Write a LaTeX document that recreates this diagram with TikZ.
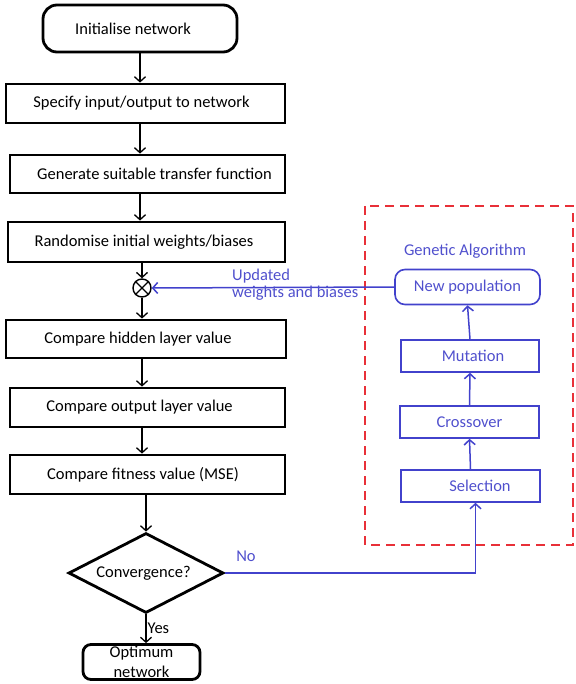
\documentclass[tikz,border=0pt]{standalone}
\usepackage{fontspec}
\setmainfont{Carlito}
\usetikzlibrary{arrows.meta,shapes.geometric,calc}
\definecolor{gablue}{RGB}{66,66,204}
\definecolor{gatext}{RGB}{80,80,205}
\definecolor{gared}{RGB}{232,48,56}
\newcommand{\tshift}[1]{\hspace*{#1}}
\begin{document}
\begin{tikzpicture}[x=1pt,y=-1pt,
  font=\fontsize{16.5}{18}\selectfont,
  bbox/.style={draw, rectangle, line width=2.8pt, inner sep=0pt},
  gbox/.style={draw=gablue, rectangle, line width=1.6pt, text=gatext, inner sep=0pt},
  arr/.style={-{Straight Barb[length=5pt,width=11pt]}, line width=1.3pt},
  barr/.style={arr, draw=gablue, line width=1.5pt},
  glabel/.style={text=gatext, inner sep=0pt}]
\useasboundingbox (0,0) rectangle (575,684);

% main flow
\node[bbox, rounded corners=14pt, minimum width=194pt, minimum height=47pt] (init) at (140,28.5) {\tshift{-14pt}Initialise network};
\node[bbox, minimum width=279pt, minimum height=39pt] (spec) at (145.5,103.5) {\tshift{-8pt}Specify input/output to network};
\node[bbox, minimum width=275pt, minimum height=38pt] (gen) at (147.5,174) {\tshift{14pt}Generate suitable transfer function};
\node[bbox, minimum width=277pt, minimum height=40pt] (rand) at (146.5,242) {\tshift{-5pt}Randomise initial weights/biases};
\node[circle, draw, line width=1.4pt, minimum size=18pt, inner sep=0pt] (sum) at (142,288) {};
\draw[line width=1.4pt] (sum.north west) -- (sum.south east) (sum.north east) -- (sum.south west);
\node[bbox, minimum width=280pt, minimum height=38pt] (hid) at (146,339) {\tshift{-16pt}Compare hidden layer value};
\node[bbox, minimum width=275pt, minimum height=39pt] (out) at (147.5,407.5) {\tshift{-16pt}Compare output layer value};
\node[bbox, minimum width=275pt, minimum height=39pt] (fit) at (147.5,474.5) {\tshift{-9pt}Compare fitness value (MSE)};
\node[diamond, draw, line width=2.8pt, aspect=2, minimum width=155pt, minimum height=80pt, inner sep=0pt] (conv) at (146,573) {\tshift{-5pt}Convergence?};
\node[bbox, rounded corners=8pt, minimum width=117pt, minimum height=35pt, align=center, font=\fontsize{16.5}{20}\selectfont] (opt) at (141.5,662) {Optimum\\network};

\draw[arr] (init.south) -- (init.south |- spec.north);
\draw[arr] (init.south |- spec.south) -- (init.south |- gen.north);
\draw[arr] (init.south |- gen.south) -- (init.south |- rand.north);
\draw[arr] (sum |- rand.south) -- (sum.north);
\draw[arr] (sum.south) -- (sum |- hid.north);
\draw[arr] (sum |- hid.south) -- (sum |- out.north);
\draw[arr] (sum |- out.south) -- (sum |- fit.north);
\draw[arr] (conv.north |- fit.south) -- (conv.north);
\draw[arr] (conv.south) -- node[right=1pt, inner sep=0pt] {Yes} (conv.south |- opt.north);

% genetic algorithm
\draw[gared, line width=1.8pt, dash pattern=on 9pt off 6pt] (365,206) rectangle (573,545);
\node[glabel] (galab) at (465,251) {Genetic Algorithm};
\node[gbox, rounded corners=10pt, minimum width=145pt, minimum height=35pt] (newpop) at (467.5,287) {New population};
\node[gbox, minimum width=138pt, minimum height=32pt] (mut) at (470,356) {\tshift{6pt}Mutation};
\node[gbox, minimum width=139pt, minimum height=32pt] (cross) at (469.5,422) {Crossover};
\node[gbox, minimum width=139pt, minimum height=32pt] (sel) at (470.5,486) {\tshift{19pt}Selection};

\draw[barr] (sel.north) -- (cross.south);
\draw[barr] (cross.north) -- (mut.south);
\draw[barr] (mut.north) -- (newpop.south);
\draw[barr] (newpop.west) -- (sum.east);
\node[glabel, align=left, anchor=west, font=\fontsize{16.5}{17}\selectfont] (upd) at (232,285) {Updated\\weights and biases};
\draw[barr] (conv.east) -| ([xshift=5pt]sel.south);
\node[glabel] (no) at (246,556) {No};
\end{tikzpicture}
\end{document}
